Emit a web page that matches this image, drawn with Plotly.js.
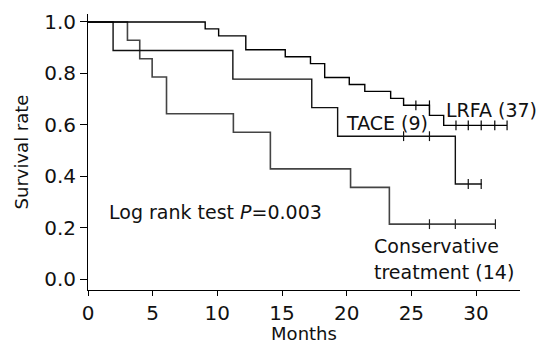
<!DOCTYPE html>
<html>
<head>
<meta charset="utf-8">
<script src="https://cdn.plot.ly/plotly-3.0.1.min.js"></script>
<style>html,body{margin:0;padding:0;background:#fff;}#chart{width:539px;height:344px;}</style>
</head>
<body>
<div id="chart"></div>
<script>
// Kaplan-Meier step data (months, survival)
const lrfaTimes = [0, 9.06, 10.1, 12.2, 15.25, 17.2, 18.3, 20.2, 21.4, 23.4, 24.4, 26.4, 27.5, 32.4];
const lrfaSurv  = [1, 0.973, 0.946, 0.892, 0.865, 0.838, 0.784, 0.757, 0.730, 0.703, 0.676, 0.637, 0.598, 0.598];
const lrfaCensT = [25.35, 26.4, 28.45, 29.4, 30.4, 31.45, 32.4];
const lrfaCensS = [0.676, 0.676, 0.598, 0.598, 0.598, 0.598, 0.598];

const taceTimes = [0, 1.94, 11.2, 17.3, 19.3, 28.4, 30.45];
const taceSurv  = [1, 0.889, 0.778, 0.667, 0.556, 0.370, 0.370];
const taceCensT = [24.4, 26.4, 29.4, 30.4];
const taceCensS = [0.556, 0.556, 0.370, 0.370];

const consTimes = [0, 3.05, 4.0, 4.96, 6.07, 11.24, 14.1, 20.3, 23.3, 31.5];
const consSurv  = [1, 0.929, 0.857, 0.786, 0.643, 0.571, 0.429, 0.357, 0.214, 0.214];
const consCensT = [26.4, 28.4, 31.5];
const consCensS = [0.214, 0.214, 0.214];

const xTicks = [0, 5, 10, 15, 20, 25, 30];
const yTicks = [0, 0.2, 0.4, 0.6, 0.8, 1.0];

const FONT = 'DejaVu Sans, Verdana, sans-serif';

function stepTrace(x, y, color, width) {
  return {x: x, y: y, type: 'scatter', mode: 'lines', line: {shape: 'hv', color: color, width: width}, hoverinfo: 'skip', showlegend: false};
}
function censTrace(x, y, color) {
  return {x: x, y: y, type: 'scatter', mode: 'markers', marker: {symbol: 'line-ns', size: 7, line: {color: color, width: 1.2}}, hoverinfo: 'skip', showlegend: false};
}

const data = [
  stepTrace(consTimes, consSurv, '#444', 1.6),
  stepTrace(taceTimes, taceSurv, '#111', 1.4),
  stepTrace(lrfaTimes, lrfaSurv, '#000', 1.4),
  censTrace(consCensT, consCensS, '#222'),
  censTrace(taceCensT, taceCensS, '#111'),
  censTrace(lrfaCensT, lrfaCensS, '#000')
];

const annFont = {family: FONT, size: 19, color: '#111'};
const layout = {
  width: 539, height: 344,
  margin: {l: 88, r: 19, t: 13.5, b: 54, pad: 0},
  paper_bgcolor: '#fff', plot_bgcolor: '#fff',
  font: {family: FONT, size: 18, color: '#111'},
  showlegend: false,
  xaxis: {
    range: [0, 33.4], tickvals: xTicks, ticktext: xTicks.map(String),
    showline: true, linecolor: '#000', linewidth: 1,
    ticks: 'outside', ticklen: 5, tickwidth: 1, tickcolor: '#000',
    showgrid: false, zeroline: false,
    tickfont: {family: FONT, size: 20, color: '#111'},
    title: {text: 'Months', font: {family: FONT, size: 18, color: '#111'}, standoff: 1}
  },
  yaxis: {
    range: [-0.042, 1.031], tickvals: yTicks, ticktext: yTicks.map(v => v.toFixed(1)),
    showline: true, linecolor: '#000', linewidth: 1,
    ticks: 'outside', ticklen: 7, tickwidth: 1, tickcolor: '#000',
    showgrid: false, zeroline: false,
    tickfont: {family: FONT, size: 20, color: '#111'},
    title: {text: 'Survival rate', font: {family: FONT, size: 18, color: '#111'}, standoff: 10}
  },
  annotations: [
    {x: 27.55, y: 0.657, xref: 'x', yref: 'y', text: 'LRFA (37)', showarrow: false, xanchor: 'left', yanchor: 'middle', font: annFont},
    {x: 19.8, y: 0.608, xref: 'x', yref: 'y', text: 'TACE (9)', showarrow: false, xanchor: 'left', yanchor: 'middle', font: annFont},
    {x: 1.45, y: 0.261, xref: 'x', yref: 'y', text: 'Log rank test <i>P</i>=0.003', showarrow: false, xanchor: 'left', yanchor: 'middle', font: annFont},
    {x: 21.95, y: 0.129, xref: 'x', yref: 'y', text: 'Conservative', showarrow: false, xanchor: 'left', yanchor: 'middle', font: annFont},
    {x: 21.95, y: 0.029, xref: 'x', yref: 'y', text: 'treatment (14)', showarrow: false, xanchor: 'left', yanchor: 'middle', font: annFont}
  ]
};

Plotly.newPlot('chart', data, layout, {staticPlot: true, displayModeBar: false});
</script>
</body>
</html>
